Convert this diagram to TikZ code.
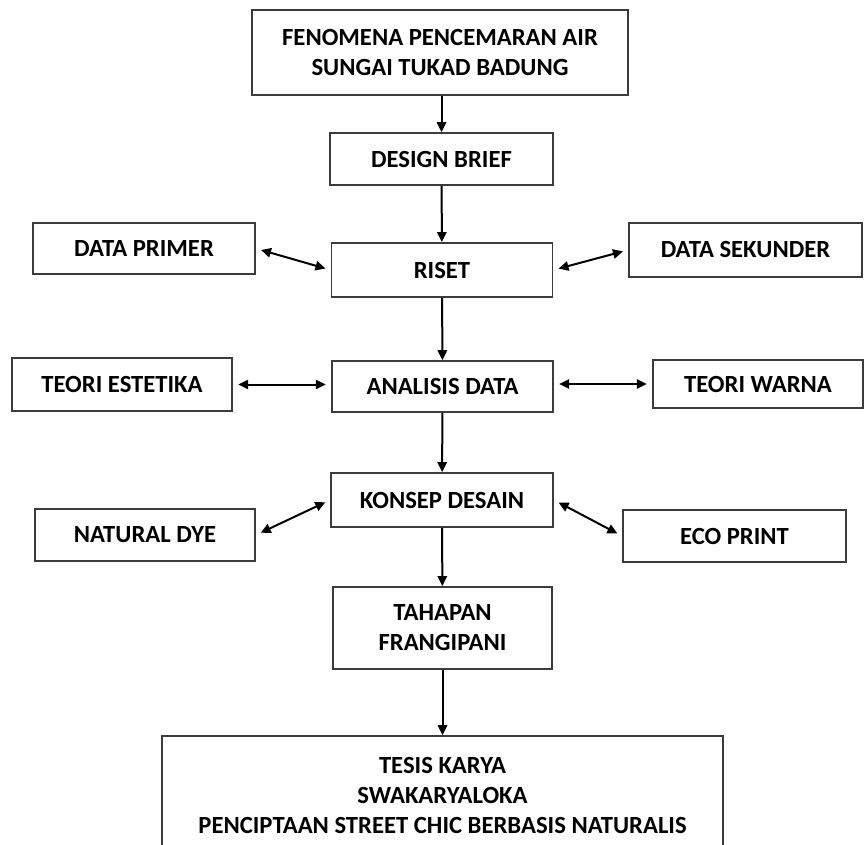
\documentclass[tikz,border=0pt]{standalone}
\usepackage{fontspec}
\setmainfont{Carlito}
\usepackage{tikz}
\usetikzlibrary{arrows.meta}
\definecolor{boxline}{RGB}{60,60,60}

\begin{document}
\begin{tikzpicture}[x=0.75pt,y=-0.75pt,
        flowbox/.style={draw=boxline,line width=1.3pt,align=center,inner sep=2pt,
            font=\fontsize{18.5}{22.5}\selectfont\bfseries},
        flowarrow/.style={-{Triangle[length=7.5pt,width=7pt]},line width=1.5pt},
        botharrow/.style={{Triangle[length=7.5pt,width=7pt]}-{Triangle[length=7.5pt,width=7pt]},line width=1.5pt,shorten <=4pt,shorten >=4pt}]
    \useasboundingbox (0,0) rectangle (864,845);
    \clip (0,0) rectangle (864,845);
    % main column
    \node[flowbox,minimum width=282pt,minimum height=63.75pt] (fenomena) at (440,52.5) {FENOMENA PENCEMARAN AIR\\SUNGAI TUKAD BADUNG};
    \node[flowbox,minimum width=167.25pt,minimum height=39pt] (brief) at (441.5,159) {DESIGN BRIEF};
    \node[flowbox,minimum width=165.75pt,minimum height=40.5pt] (riset) at (442,270) {RISET};
    \node[flowbox,minimum width=165.75pt,minimum height=38.25pt] (analisis) at (442.5,386.5) {ANALISIS DATA};
    \node[flowbox,minimum width=166.5pt,minimum height=40.5pt] (konsep) at (442,500) {KONSEP DESAIN};
    \node[flowbox,minimum width=164.25pt,minimum height=61.5pt] (tahapan) at (442.5,628) {TAHAPAN\\FRANGIPANI};
    \node[flowbox,minimum width=420.75pt,minimum height=88.5pt] (tesis) at (442.5,795) {TESIS KARYA\\SWAKARYALOKA\\PENCIPTAAN STREET CHIC BERBASIS NATURALIS};
    % side boxes
    \node[flowbox,minimum width=166.5pt,minimum height=38.25pt] (primer) at (144,248.5) {DATA PRIMER};
    \node[flowbox,minimum width=174.75pt,minimum height=40.5pt] (sekunder) at (745.5,250) {DATA SEKUNDER};
    \node[flowbox,minimum width=165pt,minimum height=39.75pt] (estetika) at (122,384.5) {TEORI ESTETIKA};
    \node[flowbox,minimum width=157.5pt,minimum height=36pt] (warna) at (758,384) {TEORI WARNA};
    \node[flowbox,minimum width=165pt,minimum height=39pt] (dye) at (145,535) {NATURAL DYE};
    \node[flowbox,minimum width=167.25pt,minimum height=39pt] (eco) at (734.5,536) {ECO PRINT};

    \draw[flowarrow] (fenomena.south -| brief.north) -- (brief.north);
    \draw[flowarrow] (brief) -- (riset);
    \draw[flowarrow] (riset) -- (analisis);
    \draw[flowarrow] (analisis) -- (konsep);
    \draw[flowarrow] (konsep) -- (tahapan);
    \draw[flowarrow] (tahapan) -- (tahapan.south |- tesis.north);

    \draw[botharrow] (primer.east) -- (riset.west);
    \draw[botharrow] (riset.east) -- (sekunder.west);
    \draw[botharrow] (estetika.east) -- (estetika.east -| analisis.west);
    \draw[botharrow] (warna.west -| analisis.east) -- (warna.west);
    \draw[botharrow] (dye.east) -- (konsep.west);
    \draw[botharrow] (konsep.east) -- (eco.west);
\end{tikzpicture}
\end{document}
